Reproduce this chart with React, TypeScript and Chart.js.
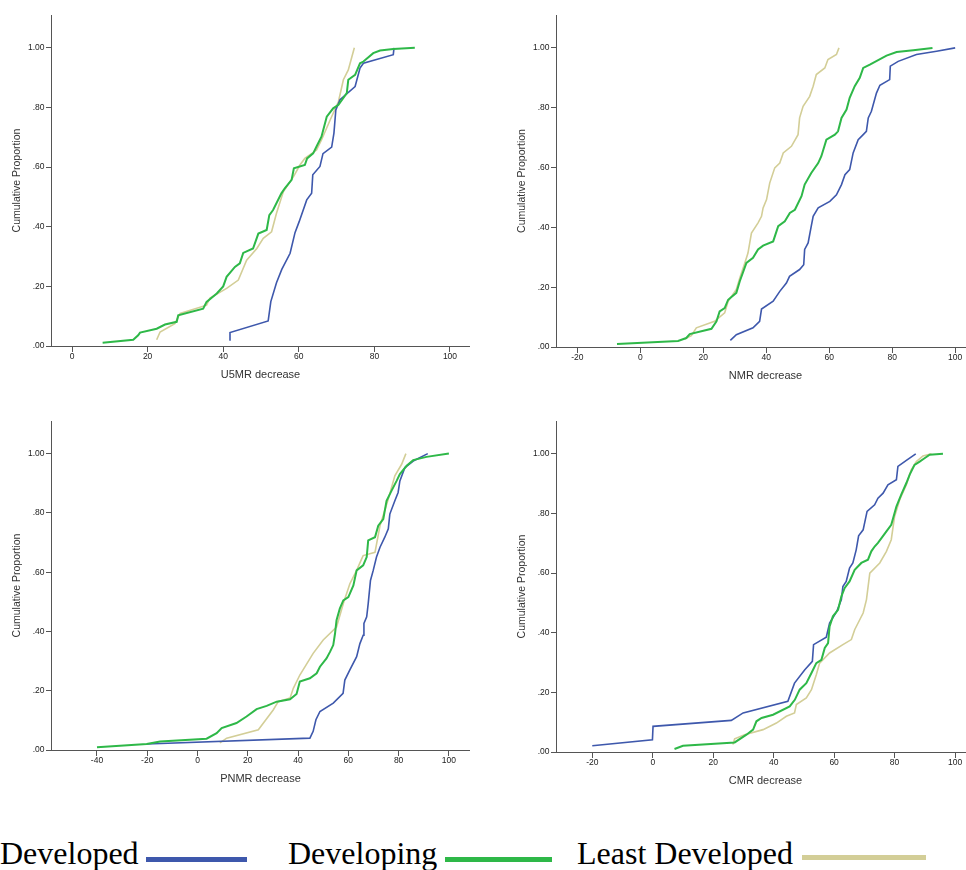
import React, { useEffect, useRef } from 'react';
import { Chart, registerables } from 'chart.js';

Chart.register(...registerables);

// ---------- data ----------
const seriesNames = ['Developed', 'Developing', 'Least Developed'];
const yTitle = 'Cumulative Proportion';
const xTitles = ['U5MR decrease', 'NMR decrease', 'PNMR decrease', 'CMR decrease'];

const yTicks = [0, 0.2, 0.4, 0.6, 0.8, 1.0];
const u5mrTicks = [0, 20, 40, 60, 80, 100];
const nmrTicks = [-20, 0, 20, 40, 60, 80, 100];
const pnmrTicks = [-40, -20, 0, 20, 40, 60, 80, 100];
const cmrTicks = [-20, 0, 20, 40, 60, 80, 100];

// U5MR
const u5mrDeveloped = [
  [41.6, 0.02], [41.8, 0.045], [51.9, 0.084], [52.6, 0.149], [54.1, 0.212], [55.5, 0.257],
  [57.7, 0.311], [59.0, 0.38], [60.1, 0.417], [62.1, 0.49], [63.4, 0.512], [63.7, 0.574],
  [65.6, 0.602], [66.4, 0.645], [68.7, 0.667], [69.3, 0.714], [69.8, 0.792], [70.9, 0.826],
  [74.9, 0.87], [76.2, 0.932], [77.1, 0.948], [85.0, 0.977], [85.2, 1.0],
];
const u5mrDeveloping = [
  [8.1, 0.011], [16.2, 0.021], [17.5, 0.036], [18.0, 0.045], [22.4, 0.058], [24.6, 0.072],
  [27.7, 0.081], [28.1, 0.103], [34.7, 0.125], [35.6, 0.148], [38.3, 0.176], [40.0, 0.2],
  [40.9, 0.232], [43.1, 0.265], [44.4, 0.277], [45.3, 0.312], [47.9, 0.327], [49.3, 0.377],
  [51.5, 0.389], [52.2, 0.439], [53.2, 0.456], [55.4, 0.512], [56.3, 0.529], [58.1, 0.557],
  [58.7, 0.596], [61.6, 0.607], [62.2, 0.629], [63.8, 0.646], [64.7, 0.669], [66.0, 0.702],
  [67.4, 0.769], [69.1, 0.797], [70.5, 0.809], [72.7, 0.848], [73.1, 0.893], [74.9, 0.909],
  [76.2, 0.948], [77.1, 0.954], [79.7, 0.982], [81.5, 0.991], [85.0, 0.996], [90.7, 1.0],
];
const u5mrLeast = [
  [22.4, 0.021], [23.3, 0.047], [27.2, 0.075], [28.6, 0.109], [35.6, 0.137], [36.5, 0.161],
  [40.9, 0.193], [44.0, 0.221], [46.2, 0.288], [48.9, 0.327], [50.6, 0.361], [52.8, 0.383],
  [54.1, 0.445], [55.9, 0.517], [58.6, 0.568], [60.3, 0.607], [61.6, 0.629], [64.7, 0.657],
  [66.0, 0.691], [68.3, 0.758], [70.5, 0.82], [71.8, 0.893], [73.1, 0.926], [74.7, 1.0],
];

// NMR
const nmrDeveloped = [
  [28.6, 0.022], [30.5, 0.041], [35.8, 0.064], [37.9, 0.086], [38.5, 0.127], [42.2, 0.153],
  [44.3, 0.186], [46.4, 0.214], [47.4, 0.236], [50.6, 0.259], [51.9, 0.275], [52.2, 0.326],
  [53.3, 0.348], [54.3, 0.404], [54.9, 0.437], [56.5, 0.465], [60.2, 0.487], [62.3, 0.509],
  [63.9, 0.543], [65.0, 0.576], [66.5, 0.593], [67.6, 0.649], [69.2, 0.693], [70.8, 0.71],
  [71.8, 0.721], [72.4, 0.766], [73.4, 0.788], [75.0, 0.849], [76.1, 0.875], [79.2, 0.894],
  [79.4, 0.939], [81.9, 0.955], [87.7, 0.978], [94.1, 0.989], [100.0, 1.0],
];
const nmrDeveloping = [
  [-7.4, 0.01], [12.0, 0.02], [14.6, 0.03], [15.7, 0.043], [22.6, 0.061], [24.2, 0.086],
  [25.2, 0.119], [26.8, 0.13], [27.9, 0.158], [30.5, 0.181], [31.6, 0.22], [33.7, 0.281],
  [35.8, 0.298], [37.4, 0.326], [39.0, 0.339], [42.2, 0.353], [43.8, 0.404], [45.9, 0.42],
  [47.5, 0.448], [49.1, 0.459], [51.2, 0.504], [52.2, 0.543], [54.3, 0.582], [56.5, 0.615],
  [57.5, 0.638], [59.1, 0.693], [61.8, 0.71], [62.8, 0.721], [63.9, 0.766], [65.5, 0.794],
  [66.5, 0.833], [68.1, 0.872], [69.7, 0.9], [70.8, 0.933], [72.9, 0.944], [78.2, 0.974],
  [81.4, 0.986], [86.7, 0.992], [92.8, 1.0],
];
const nmrLeast = [
  [14.1, 0.027], [16.2, 0.038], [17.8, 0.064], [23.6, 0.086], [26.8, 0.114], [27.9, 0.153],
  [30.5, 0.192], [31.6, 0.231], [33.2, 0.281], [34.2, 0.314], [35.3, 0.381], [37.4, 0.415],
  [38.5, 0.437], [39.0, 0.465], [40.1, 0.493], [41.1, 0.548], [42.7, 0.599], [44.3, 0.615],
  [45.4, 0.649], [48.0, 0.671], [50.1, 0.71], [50.6, 0.766], [51.7, 0.805], [53.8, 0.838],
  [54.9, 0.872], [55.9, 0.911], [58.6, 0.933], [59.6, 0.961], [62.3, 0.978], [63.1, 1.0],
];

// PNMR
const pnmrDeveloped = [
  [-20.2, 0.02], [44.7, 0.04], [46.0, 0.063], [47.1, 0.102], [48.7, 0.13], [54.0, 0.158],
  [57.9, 0.191], [58.6, 0.236], [60.6, 0.27], [63.3, 0.315], [64.6, 0.359], [65.9, 0.387],
  [66.2, 0.427], [67.3, 0.449], [67.9, 0.494], [68.8, 0.572], [69.9, 0.606], [71.2, 0.651],
  [72.6, 0.684], [74.5, 0.718], [75.9, 0.746], [76.5, 0.796], [78.5, 0.841], [79.8, 0.869],
  [80.5, 0.908], [82.5, 0.953], [85.8, 0.975], [91.6, 1.0],
];
const pnmrDeveloping = [
  [-40.0, 0.009], [-20.2, 0.02], [-14.9, 0.029], [3.6, 0.038], [7.6, 0.057], [9.6, 0.074],
  [15.5, 0.091], [19.5, 0.113], [23.5, 0.138], [27.5, 0.149], [31.5, 0.163], [36.8, 0.171],
  [39.4, 0.189], [40.7, 0.231], [44.7, 0.242], [47.4, 0.259], [48.7, 0.281], [51.3, 0.309],
  [52.7, 0.331], [54.0, 0.354], [54.7, 0.393], [55.3, 0.438], [56.6, 0.477], [58.0, 0.505],
  [60.0, 0.516], [62.0, 0.555], [63.3, 0.606], [65.9, 0.623], [67.3, 0.651], [67.9, 0.707],
  [70.6, 0.718], [71.9, 0.757], [73.9, 0.779], [75.2, 0.841], [77.2, 0.875], [79.2, 0.908],
  [80.5, 0.931], [83.2, 0.959], [85.8, 0.978], [91.1, 0.989], [100.0, 1.0],
];
const pnmrLeast = [
  [8.9, 0.024], [11.6, 0.04], [24.2, 0.068], [30.1, 0.135], [32.1, 0.163], [36.8, 0.175],
  [38.1, 0.208], [40.7, 0.253], [46.0, 0.326], [50.0, 0.371], [55.3, 0.415], [58.0, 0.494],
  [60.6, 0.561], [63.3, 0.606], [65.3, 0.645], [65.9, 0.656], [70.6, 0.667], [72.6, 0.757],
  [75.9, 0.847], [78.5, 0.925], [81.2, 0.964], [82.9, 1.0],
];

// CMR
const cmrDeveloped = [
  [-20.0, 0.021], [-0.1, 0.041], [0.1, 0.086], [26.0, 0.106], [29.9, 0.131], [44.7, 0.17],
  [46.9, 0.231], [50.3, 0.276], [52.8, 0.304], [53.2, 0.36], [57.4, 0.385], [58.5, 0.432],
  [60.9, 0.472], [62.4, 0.511], [62.9, 0.555], [64.0, 0.572], [65.1, 0.617], [66.2, 0.634],
  [67.3, 0.678], [68.1, 0.725], [69.6, 0.745], [70.9, 0.807], [73.4, 0.829], [74.5, 0.851],
  [76.2, 0.868], [77.8, 0.896], [80.6, 0.913], [81.1, 0.958], [83.9, 0.978], [87.0, 1.0],
];
const cmrDeveloping = [
  [7.2, 0.01], [10.0, 0.021], [27.1, 0.032], [31.0, 0.058], [33.2, 0.075], [34.3, 0.103],
  [36.0, 0.114], [39.8, 0.125], [45.3, 0.153], [47.0, 0.175], [48.6, 0.209], [50.8, 0.231],
  [52.5, 0.265], [54.1, 0.298], [55.8, 0.309], [56.9, 0.349], [58.0, 0.365], [58.5, 0.421],
  [59.6, 0.455], [61.3, 0.477], [62.4, 0.522], [63.5, 0.55], [65.1, 0.572], [66.8, 0.611],
  [69.0, 0.634], [71.2, 0.645], [72.3, 0.673], [73.4, 0.689], [74.5, 0.701], [77.3, 0.74],
  [78.9, 0.762], [80.6, 0.823], [82.2, 0.863], [83.9, 0.902], [85.0, 0.93], [86.6, 0.963],
  [88.3, 0.974], [89.9, 0.985], [91.6, 0.997], [96.0, 1.0],
];
const cmrLeast = [
  [26.5, 0.025], [27.1, 0.044], [30.4, 0.058], [36.5, 0.075], [40.9, 0.097], [44.2, 0.12],
  [46.9, 0.131], [47.5, 0.159], [50.8, 0.181], [52.5, 0.209], [54.1, 0.259], [55.2, 0.298],
  [58.5, 0.332], [62.9, 0.36], [65.7, 0.377], [66.8, 0.41], [69.6, 0.466], [70.7, 0.511],
  [71.8, 0.6], [75.1, 0.634], [77.3, 0.673], [78.9, 0.712], [80.0, 0.79], [81.7, 0.846],
  [83.9, 0.896], [85.5, 0.946], [87.2, 0.974], [89.4, 0.993], [92.2, 1.0],
];

// ---------- styles ----------
const seriesColors = ['#3E58AC', '#2EB848', '#D3CE97'];
const seriesWidths = [1.6, 2, 1.6];
const FONT = '"Liberation Sans", Arial, sans-serif';
const Y_AXIS_W = 51;
const X_AXIS_H = 40;
const CANVAS_W = 470;

const panels = [
  { title: xTitles[0], ticks: u5mrTicks, xMin: -5.56, xMax: 105.3, left: 0, top: 15, plotH: 331, series: [u5mrDeveloped, u5mrDeveloping, u5mrLeast] },
  { title: xTitles[1], ticks: nmrTicks, xMin: -26.77, xMax: 106.3, left: 505, top: 15, plotH: 332, series: [nmrDeveloped, nmrDeveloping, nmrLeast] },
  { title: xTitles[2], ticks: pnmrTicks, xMin: -58.3, xMax: 108.4, left: 0, top: 421, plotH: 329, series: [pnmrDeveloped, pnmrDeveloping, pnmrLeast] },
  { title: xTitles[3], ticks: cmrTicks, xMin: -32.0, xMax: 106.6, left: 505, top: 421, plotH: 331, series: [cmrDeveloped, cmrDeveloping, cmrLeast] },
];

function Panel({ cfg }: { cfg: any }) {
  const ref = useRef<HTMLCanvasElement>(null);
  useEffect(() => {
    if (!ref.current) return;
    const drawOrder = [1, 0, 2]; // green on top
    const datasets = drawOrder.map((i) => ({
      label: seriesNames[i],
      data: cfg.series[i].map((p: number[]) => ({ x: p[0], y: p[1] })),
      borderColor: seriesColors[i],
      backgroundColor: seriesColors[i],
      borderWidth: seriesWidths[i],
      showLine: true,
      pointRadius: 0,
      pointHoverRadius: 0,
      tension: 0,
      fill: false,
    }));
    const axisColor = '#555';
    const tickFont = { family: FONT, size: 8.5 };
    const chart = new Chart(ref.current, {
      type: 'scatter',
      data: { datasets },
      options: {
        animation: false,
        responsive: false,
        maintainAspectRatio: false,
        events: [],
        layout: { padding: 0, autoPadding: false },
        plugins: { legend: { display: false }, tooltip: { enabled: false } },
        scales: {
          x: {
            type: 'linear',
            min: cfg.xMin,
            max: cfg.xMax,
            afterBuildTicks: (s: any) => { s.ticks = cfg.ticks.map((v: number) => ({ value: v })); },
            afterFit: (s: any) => {
              s.height = X_AXIS_H;
              s.paddingLeft = 0; s.paddingRight = 0; s.paddingTop = 0; s.paddingBottom = 0;
            },
            grid: { display: true, drawOnChartArea: false, drawTicks: true, tickLength: 6, color: axisColor, lineWidth: 1 },
            border: { display: true, color: axisColor, width: 1 },
            ticks: { font: tickFont, color: '#222', padding: 0, maxRotation: 0, autoSkip: false, callback: (v: any) => String(v) },
            title: { display: true, text: cfg.title, color: '#333', font: { family: FONT, size: 11 }, padding: { top: 0, bottom: 4.9 } },
          },
          y: {
            type: 'linear',
            min: 0,
            max: 1.11,
            afterBuildTicks: (s: any) => { s.ticks = yTicks.map((v) => ({ value: v })); },
            afterFit: (s: any) => {
              s.width = Y_AXIS_W;
              s.paddingLeft = 0; s.paddingRight = 0; s.paddingTop = 0; s.paddingBottom = 0;
            },
            grid: { display: true, drawOnChartArea: false, drawTicks: true, tickLength: 5, color: axisColor, lineWidth: 1 },
            border: { display: true, color: axisColor, width: 1 },
            ticks: {
              font: tickFont, color: '#222', padding: 1.5, autoSkip: false,
              callback: (v: any) => Number(v).toFixed(2).replace(/^0/, ''),
            },
            title: { display: true, text: yTitle, color: '#333', font: { family: FONT, size: 10.5 }, padding: { top: 10.7, bottom: 0 } },
          },
        },
      },
    } as any);
    return () => chart.destroy();
  }, []);
  const h = cfg.plotH + X_AXIS_H;
  return (
    <canvas
      ref={ref}
      width={CANVAS_W}
      height={h}
      style={{ position: 'absolute', left: cfg.left, top: cfg.top, width: CANVAS_W, height: h }}
    />
  );
}

const legendItems = [
  { name: seriesNames[0], textLeft: 0, barLeft: 146, barTop: 857, barW: 101, color: seriesColors[0] },
  { name: seriesNames[1], textLeft: 288, barLeft: 445, barTop: 857, barW: 107, color: seriesColors[1] },
  { name: seriesNames[2], textLeft: 577, barLeft: 802, barTop: 855, barW: 124, color: seriesColors[2] },
];

export default function App() {
  return (
    <div style={{ position: 'fixed', left: 0, top: 0, width: 966, height: 870, overflow: 'hidden', background: '#fff' }}>
      {panels.map((p, i) => <Panel key={i} cfg={p} />)}
      {legendItems.map((it) => (
        <React.Fragment key={it.name}>
          <span
            style={{
              position: 'absolute', left: it.textLeft, top: 837, fontFamily: '"Liberation Serif", "Times New Roman", serif',
              fontSize: 32, lineHeight: '32px', color: '#000', whiteSpace: 'nowrap',
            }}
          >
            {it.name}
          </span>
          <div style={{ position: 'absolute', left: it.barLeft, top: it.barTop, width: it.barW, height: 5, background: it.color }} />
        </React.Fragment>
      ))}
    </div>
  );
}
